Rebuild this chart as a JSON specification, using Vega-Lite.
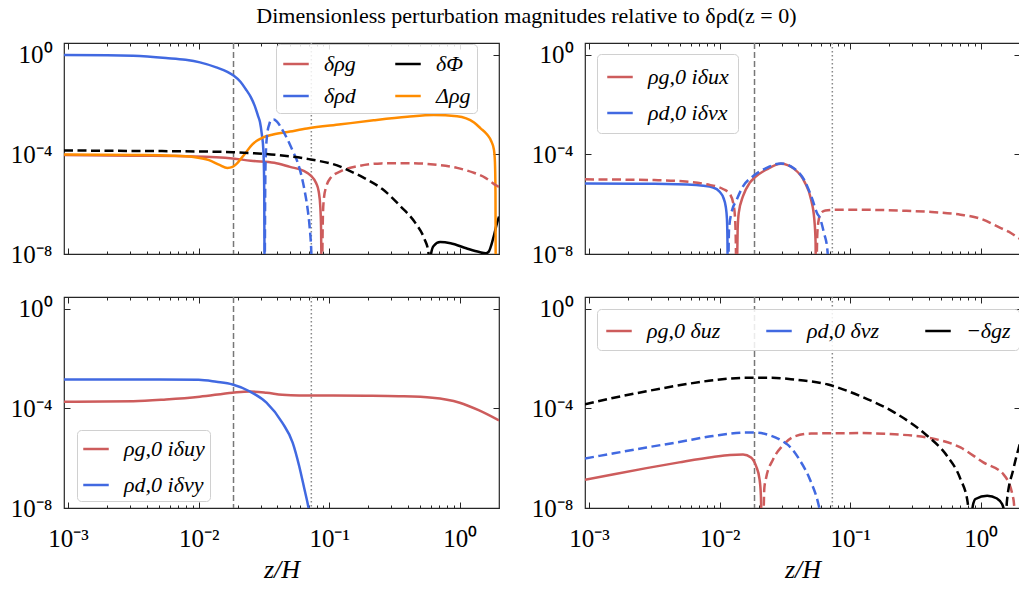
{
  "$schema": "https://vega.github.io/schema/vega-lite/v6.json",
  "padding": {"left": 9, "top": 4, "right": 0, "bottom": 5},
  "title": {"text": "Dimensionless perturbation magnitudes relative to δρd(z = 0)", "anchor": "middle", "dx": 11, "offset": 14},
  "columns": 2,
  "spacing": {"row": 43, "column": 86},
  "bounds": "flush",
  "resolve": {"scale": {"color": "independent"}, "legend": {"color": "independent"}},
  "concat": [
    {
      "width": 435, "height": 211,
      "data": {"values": [
        {"s":"δρg","g":"r1","d":0,"x":0.00093,"y":9.5e-5},{"s":"δρg","g":"r1","d":0,"x":0.00316,"y":8.9e-5},{"s":"δρg","g":"r1","d":0,"x":0.00912,"y":8.3e-5},{"s":"δρg","g":"r1","d":0,"x":0.0182,"y":6.9e-5},{"s":"δρg","g":"r1","d":0,"x":0.0251,"y":5.6e-5},{"s":"δρg","g":"r1","d":0,"x":0.038,"y":4.68e-5},{"s":"δρg","g":"r1","d":0,"x":0.0501,"y":3.16e-5},{"s":"δρg","g":"r1","d":0,"x":0.0631,"y":2.24e-5},{"s":"δρg","g":"r1","d":0,"x":0.0724,"y":1.41e-5},{"s":"δρg","g":"r1","d":0,"x":0.0794,"y":7.1e-6},{"s":"δρg","g":"r1","d":0,"x":0.0832,"y":3.16e-6},{"s":"δρg","g":"r1","d":0,"x":0.0855,"y":7.9e-7},{"s":"δρg","g":"r1","d":0,"x":0.0867,"y":1e-7},{"s":"δρg","g":"r1","d":0,"x":0.0875,"y":1e-9},
        {"s":"δρg","g":"r2","d":1,"x":0.0883,"y":1e-9},{"s":"δρg","g":"r2","d":1,"x":0.0895,"y":3.16e-7},{"s":"δρg","g":"r2","d":1,"x":0.0912,"y":1.78e-6},{"s":"δρg","g":"r2","d":1,"x":0.0955,"y":5.6e-6},{"s":"δρg","g":"r2","d":1,"x":0.1023,"y":1.12e-5},{"s":"δρg","g":"r2","d":1,"x":0.123,"y":2.14e-5},{"s":"δρg","g":"r2","d":1,"x":0.166,"y":3.39e-5},{"s":"δρg","g":"r2","d":1,"x":0.251,"y":4.37e-5},{"s":"δρg","g":"r2","d":1,"x":0.398,"y":4.47e-5},{"s":"δρg","g":"r2","d":1,"x":0.631,"y":3.98e-5},{"s":"δρg","g":"r2","d":1,"x":0.955,"y":2.88e-5},{"s":"δρg","g":"r2","d":1,"x":1.259,"y":1.9e-5},{"s":"δρg","g":"r2","d":1,"x":1.585,"y":1.12e-5},{"s":"δρg","g":"r2","d":1,"x":1.82,"y":6.6e-6},{"s":"δρg","g":"r2","d":1,"x":2.0,"y":5.0e-6},
        {"s":"δρd","g":"b1","d":0,"x":0.00093,"y":1.0},{"s":"δρd","g":"b1","d":0,"x":0.002,"y":0.977},{"s":"δρd","g":"b1","d":0,"x":0.00316,"y":0.912},{"s":"δρd","g":"b1","d":0,"x":0.00562,"y":0.741},{"s":"δρd","g":"b1","d":0,"x":0.00794,"y":0.631},{"s":"δρd","g":"b1","d":0,"x":0.01023,"y":0.501},{"s":"δρd","g":"b1","d":0,"x":0.01365,"y":0.316},{"s":"δρd","g":"b1","d":0,"x":0.0166,"y":0.209},{"s":"δρd","g":"b1","d":0,"x":0.01862,"y":0.1445},{"s":"δρd","g":"b1","d":0,"x":0.0209,"y":0.0832},{"s":"δρd","g":"b1","d":0,"x":0.0229,"y":0.0427},{"s":"δρd","g":"b1","d":0,"x":0.0251,"y":0.02},{"s":"δρd","g":"b1","d":0,"x":0.0269,"y":0.0089},{"s":"δρd","g":"b1","d":0,"x":0.0285,"y":0.00355},{"s":"δρd","g":"b1","d":0,"x":0.0295,"y":0.002},{"s":"δρd","g":"b1","d":0,"x":0.0305,"y":0.00063},{"s":"δρd","g":"b1","d":0,"x":0.0313,"y":0.000158},{"s":"δρd","g":"b1","d":0,"x":0.03162,"y":3.16e-5},{"s":"δρd","g":"b1","d":0,"x":0.0318,"y":3.16e-6},{"s":"δρd","g":"b1","d":0,"x":0.032,"y":1e-9},
        {"s":"δρd","g":"b2","d":1,"x":0.0321,"y":1e-9},{"s":"δρd","g":"b2","d":1,"x":0.0324,"y":1e-5},{"s":"δρd","g":"b2","d":1,"x":0.0327,"y":1e-4},{"s":"δρd","g":"b2","d":1,"x":0.0335,"y":6.3e-4},{"s":"δρd","g":"b2","d":1,"x":0.0347,"y":1.58e-3},{"s":"δρd","g":"b2","d":1,"x":0.0359,"y":2.4e-3},{"s":"δρd","g":"b2","d":1,"x":0.0376,"y":2.51e-3},{"s":"δρd","g":"b2","d":1,"x":0.0398,"y":2.09e-3},{"s":"δρd","g":"b2","d":1,"x":0.0437,"y":1e-3},{"s":"δρd","g":"b2","d":1,"x":0.0479,"y":4.07e-4},{"s":"δρd","g":"b2","d":1,"x":0.0525,"y":1.41e-4},{"s":"δρd","g":"b2","d":1,"x":0.0575,"y":4.57e-5},{"s":"δρd","g":"b2","d":1,"x":0.0646,"y":3.89e-6},{"s":"δρd","g":"b2","d":1,"x":0.0684,"y":6.3e-7},{"s":"δρd","g":"b2","d":1,"x":0.0708,"y":1.26e-7},{"s":"δρd","g":"b2","d":1,"x":0.0728,"y":1.58e-8},{"s":"δρd","g":"b2","d":1,"x":0.0741,"y":1e-9},
        {"s":"δΦ","g":"k1","d":1,"x":0.00093,"y":1.45e-4},{"s":"δΦ","g":"k1","d":1,"x":0.00316,"y":1.38e-4},{"s":"δΦ","g":"k1","d":1,"x":0.01,"y":1.32e-4},{"s":"δΦ","g":"k1","d":1,"x":0.0182,"y":1.23e-4},{"s":"δΦ","g":"k1","d":1,"x":0.0398,"y":9.5e-5},{"s":"δΦ","g":"k1","d":1,"x":0.0724,"y":6.3e-5},{"s":"δΦ","g":"k1","d":1,"x":0.123,"y":3.16e-5},{"s":"δΦ","g":"k1","d":1,"x":0.138,"y":2.4e-5},{"s":"δΦ","g":"k1","d":1,"x":0.186,"y":1.12e-5},{"s":"δΦ","g":"k1","d":1,"x":0.257,"y":3.98e-6},{"s":"δΦ","g":"k1","d":1,"x":0.355,"y":7.9e-7},{"s":"δΦ","g":"k1","d":1,"x":0.457,"y":1.78e-7},{"s":"δΦ","g":"k1","d":1,"x":0.537,"y":3.98e-8},{"s":"δΦ","g":"k1","d":1,"x":0.575,"y":1.26e-8},{"s":"δΦ","g":"k1","d":1,"x":0.586,"y":1e-9},
        {"s":"δΦ","g":"k2","d":0,"x":0.592,"y":1e-9},{"s":"δΦ","g":"k2","d":0,"x":0.603,"y":1e-8},{"s":"δΦ","g":"k2","d":0,"x":0.631,"y":2.1e-8},{"s":"δΦ","g":"k2","d":0,"x":0.708,"y":3.0e-8},{"s":"δΦ","g":"k2","d":0,"x":0.851,"y":2.7e-8},{"s":"δΦ","g":"k2","d":0,"x":1.122,"y":1.7e-8},{"s":"δΦ","g":"k2","d":0,"x":1.413,"y":1.2e-8},{"s":"δΦ","g":"k2","d":0,"x":1.585,"y":1.07e-8},{"s":"δΦ","g":"k2","d":0,"x":1.66,"y":1.2e-8},{"s":"δΦ","g":"k2","d":0,"x":1.82,"y":5e-8},{"s":"δΦ","g":"k2","d":0,"x":1.93,"y":1.74e-7},{"s":"δΦ","g":"k2","d":0,"x":2.0,"y":3.2e-7},
        {"s":"Δρg","g":"o1","d":0,"x":0.00093,"y":1.0e-4},{"s":"Δρg","g":"o1","d":0,"x":0.00316,"y":9.5e-5},{"s":"Δρg","g":"o1","d":0,"x":0.00631,"y":8.9e-5},{"s":"Δρg","g":"o1","d":0,"x":0.00912,"y":7.9e-5},{"s":"Δρg","g":"o1","d":0,"x":0.012,"y":5.9e-5},{"s":"Δρg","g":"o1","d":0,"x":0.01445,"y":3.8e-5},{"s":"Δρg","g":"o1","d":0,"x":0.0166,"y":2.88e-5},{"s":"Δρg","g":"o1","d":0,"x":0.0182,"y":3.16e-5},{"s":"Δρg","g":"o1","d":0,"x":0.0195,"y":4.17e-5},{"s":"Δρg","g":"o1","d":0,"x":0.0224,"y":1e-4},{"s":"Δρg","g":"o1","d":0,"x":0.0257,"y":2.5e-4},{"s":"Δρg","g":"o1","d":0,"x":0.0309,"y":4.7e-4},{"s":"Δρg","g":"o1","d":0,"x":0.0372,"y":6.3e-4},{"s":"Δρg","g":"o1","d":0,"x":0.0501,"y":8.3e-4},{"s":"Δρg","g":"o1","d":0,"x":0.0676,"y":1.1e-3},{"s":"Δρg","g":"o1","d":0,"x":0.123,"y":1.62e-3},{"s":"Δρg","g":"o1","d":0,"x":0.219,"y":2.34e-3},{"s":"Δρg","g":"o1","d":0,"x":0.398,"y":3.24e-3},{"s":"Δρg","g":"o1","d":0,"x":0.631,"y":3.8e-3},{"s":"Δρg","g":"o1","d":0,"x":0.955,"y":3.4e-3},{"s":"Δρg","g":"o1","d":0,"x":1.288,"y":1.9e-3},{"s":"Δρg","g":"o1","d":0,"x":1.445,"y":1.12e-3},{"s":"Δρg","g":"o1","d":0,"x":1.622,"y":6.3e-4},{"s":"Δρg","g":"o1","d":0,"x":1.738,"y":3.55e-4},{"s":"Δρg","g":"o1","d":0,"x":1.828,"y":1.58e-4},{"s":"Δρg","g":"o1","d":0,"x":1.862,"y":5e-5},{"s":"Δρg","g":"o1","d":0,"x":1.879,"y":3.16e-6},{"s":"Δρg","g":"o1","d":0,"x":1.888,"y":1e-9}
      ]},
      "layer": [
        {"data": {"values": [{"v": 0.0185}]}, "mark": {"type": "rule", "color": "#777", "strokeWidth": 1.5, "strokeDash": [6, 3]},
         "encoding": {"x": {"field": "v", "type": "quantitative", "scale": {"type": "log", "domain": [0.00093, 2], "nice": false}, "axis": {"orient": "bottom", "values": [0.002,0.003,0.004,0.005,0.006,0.007,0.008,0.009,0.02,0.03,0.04,0.05,0.06,0.07,0.08,0.09,0.2,0.3,0.4,0.5,0.6,0.7,0.8,0.9], "labels": false, "tickSize": -3, "title": null}},
           "y": {"datum": 3, "type": "quantitative", "scale": {"type": "log", "domain": [1e-8, 3], "nice": false}, "axis": null}, "y2": {"datum": 1e-8}}},
        {"data": {"values": [{"v": 0.073}]}, "mark": {"type": "rule", "color": "#888", "strokeWidth": 1.5, "strokeDash": [1.5, 2.5]},
         "encoding": {"x": {"field": "v", "type": "quantitative", "scale": {"type": "log", "domain": [0.00093, 2], "nice": false}, "axis": {"orient": "top", "values": [0.002,0.003,0.004,0.005,0.006,0.007,0.008,0.009,0.02,0.03,0.04,0.05,0.06,0.07,0.08,0.09,0.2,0.3,0.4,0.5,0.6,0.7,0.8,0.9], "labels": false, "tickSize": -3, "title": null}},
           "y": {"datum": 3, "type": "quantitative", "scale": {"type": "log", "domain": [1e-8, 3], "nice": false}, "axis": null}, "y2": {"datum": 1e-8}}},
        {"transform": [{"filter": "datum.d == 0"}], "mark": {"type": "line", "clip": true, "strokeWidth": 2.5, "interpolate": "monotone"},
         "encoding": {
           "x": {"field": "x", "type": "quantitative", "scale": {"type": "log", "domain": [0.00093, 2], "nice": false}, "axis": {"orient": "bottom", "values": [0.001, 0.01, 0.1, 1], "labels": false, "tickSize": -6, "title": null}},
           "y": {"field": "y", "type": "quantitative", "scale": {"type": "log", "domain": [1e-8, 3], "nice": false}, "axis": {"orient": "left", "values": [1, 0.0001, 1e-8], "labelExpr": "datum.value > 0.5 ? '10⁰' : datum.value > 1e-6 ? '10⁻⁴' : '10⁻⁸'", "tickSize": -6, "labelPadding": 18, "title": null}},
           "color": {"field": "s", "type": "nominal", "scale": {"domain": ["δρg", "δρd", "δΦ", "Δρg"], "range": ["#cd5c5c", "#4169e1", "#000000", "#ff8c00"]}, "legend": {"orient": "none", "legendX": 212, "legendY": 1, "columns": 2, "columnPadding": 34, "rowPadding": 7, "padding": 6, "title": null}},
           "detail": {"field": "g"}
         }},
        {"transform": [{"filter": "datum.d == 1"}], "mark": {"type": "line", "clip": true, "strokeWidth": 2.5, "interpolate": "monotone", "strokeDash": [9, 4.5]},
         "encoding": {
           "x": {"field": "x", "type": "quantitative", "scale": {"type": "log", "domain": [0.00093, 2], "nice": false}, "axis": {"orient": "top", "values": [0.001, 0.01, 0.1, 1], "labels": false, "tickSize": -6, "title": null}},
           "y": {"field": "y", "type": "quantitative", "scale": {"type": "log", "domain": [1e-8, 3], "nice": false}, "axis": {"orient": "right", "values": [1, 0.0001, 1e-8], "labels": false, "tickSize": -6, "title": null}},
           "color": {"field": "s", "type": "nominal", "scale": {"domain": ["δρg", "δρd", "δΦ", "Δρg"], "range": ["#cd5c5c", "#4169e1", "#000000", "#ff8c00"]}, "legend": null},
           "detail": {"field": "g"}
         }}
      ],
      "resolve": {"axis": {"x": "independent", "y": "independent"}}
    },
    {
      "width": 435, "height": 211,
      "data": {"values": [
        {"s":"ρg,0 iδux","g":"r1","d":1,"x":0.00093,"y":1e-5},{"s":"ρg,0 iδux","g":"r1","d":1,"x":0.00316,"y":9.3e-6},{"s":"ρg,0 iδux","g":"r1","d":1,"x":0.0049,"y":8.5e-6},{"s":"ρg,0 iδux","g":"r1","d":1,"x":0.00794,"y":6.3e-6},{"s":"ρg,0 iδux","g":"r1","d":1,"x":0.0107,"y":4.0e-6},{"s":"ρg,0 iδux","g":"r1","d":1,"x":0.012,"y":2.5e-6},{"s":"ρg,0 iδux","g":"r1","d":1,"x":0.0127,"y":1.12e-6},{"s":"ρg,0 iδux","g":"r1","d":1,"x":0.0131,"y":3.16e-7},{"s":"ρg,0 iδux","g":"r1","d":1,"x":0.0133,"y":3.16e-8},{"s":"ρg,0 iδux","g":"r1","d":1,"x":0.0134,"y":1e-9},
        {"s":"ρg,0 iδux","g":"r2","d":0,"x":0.01355,"y":1e-9},{"s":"ρg,0 iδux","g":"r2","d":0,"x":0.01374,"y":1e-7},{"s":"ρg,0 iδux","g":"r2","d":0,"x":0.014,"y":4.4e-7},{"s":"ρg,0 iδux","g":"r2","d":0,"x":0.0151,"y":2.1e-6},{"s":"ρg,0 iδux","g":"r2","d":0,"x":0.017,"y":7.2e-6},{"s":"ρg,0 iδux","g":"r2","d":0,"x":0.0186,"y":1.2e-5},{"s":"ρg,0 iδux","g":"r2","d":0,"x":0.0229,"y":2.5e-5},{"s":"ρg,0 iδux","g":"r2","d":0,"x":0.0295,"y":4.27e-5},{"s":"ρg,0 iδux","g":"r2","d":0,"x":0.0372,"y":2.63e-5},{"s":"ρg,0 iδux","g":"r2","d":0,"x":0.0447,"y":7.9e-6},{"s":"ρg,0 iδux","g":"r2","d":0,"x":0.0501,"y":1.58e-6},{"s":"ρg,0 iδux","g":"r2","d":0,"x":0.0531,"y":2.5e-7},{"s":"ρg,0 iδux","g":"r2","d":0,"x":0.0543,"y":3.16e-8},{"s":"ρg,0 iδux","g":"r2","d":0,"x":0.0547,"y":1e-9},
        {"s":"ρg,0 iδux","g":"r3","d":1,"x":0.0552,"y":1e-9},{"s":"ρg,0 iδux","g":"r3","d":1,"x":0.056,"y":6.3e-8},{"s":"ρg,0 iδux","g":"r3","d":1,"x":0.0575,"y":2.5e-7},{"s":"ρg,0 iδux","g":"r3","d":1,"x":0.0596,"y":4.4e-7},{"s":"ρg,0 iδux","g":"r3","d":1,"x":0.0646,"y":5.6e-7},{"s":"ρg,0 iδux","g":"r3","d":1,"x":0.0794,"y":6.0e-7},{"s":"ρg,0 iδux","g":"r3","d":1,"x":0.12,"y":6.0e-7},{"s":"ρg,0 iδux","g":"r3","d":1,"x":0.251,"y":5.5e-7},{"s":"ρg,0 iδux","g":"r3","d":1,"x":0.389,"y":5.0e-7},{"s":"ρg,0 iδux","g":"r3","d":1,"x":0.7,"y":3.8e-7},{"s":"ρg,0 iδux","g":"r3","d":1,"x":1.0,"y":2.6e-7},{"s":"ρg,0 iδux","g":"r3","d":1,"x":1.413,"y":1.12e-7},{"s":"ρg,0 iδux","g":"r3","d":1,"x":1.637,"y":7.9e-8},{"s":"ρg,0 iδux","g":"r3","d":1,"x":1.905,"y":4.7e-8},{"s":"ρg,0 iδux","g":"r3","d":1,"x":2.0,"y":4.0e-8},
        {"s":"ρd,0 iδvx","g":"b1","d":0,"x":0.00093,"y":6.8e-6},{"s":"ρd,0 iδvx","g":"b1","d":0,"x":0.00316,"y":6.6e-6},{"s":"ρd,0 iδvx","g":"b1","d":0,"x":0.0066,"y":5.9e-6},{"s":"ρd,0 iδvx","g":"b1","d":0,"x":0.0089,"y":4.7e-6},{"s":"ρd,0 iδvx","g":"b1","d":0,"x":0.01,"y":3.16e-6},{"s":"ρd,0 iδvx","g":"b1","d":0,"x":0.0107,"y":1.78e-6},{"s":"ρd,0 iδvx","g":"b1","d":0,"x":0.01114,"y":7.9e-7},{"s":"ρd,0 iδvx","g":"b1","d":0,"x":0.01138,"y":2.5e-7},{"s":"ρd,0 iδvx","g":"b1","d":0,"x":0.01148,"y":3.16e-8},{"s":"ρd,0 iδvx","g":"b1","d":0,"x":0.01153,"y":1e-9},
        {"s":"ρd,0 iδvx","g":"b2","d":1,"x":0.01164,"y":1e-9},{"s":"ρd,0 iδvx","g":"b2","d":1,"x":0.0118,"y":1e-7},{"s":"ρd,0 iδvx","g":"b2","d":1,"x":0.0123,"y":4.4e-7},{"s":"ρd,0 iδvx","g":"b2","d":1,"x":0.0135,"y":1.51e-6},{"s":"ρd,0 iδvx","g":"b2","d":1,"x":0.0151,"y":5.2e-6},{"s":"ρd,0 iδvx","g":"b2","d":1,"x":0.018,"y":1.32e-5},{"s":"ρd,0 iδvx","g":"b2","d":1,"x":0.0229,"y":2.88e-5},{"s":"ρd,0 iδvx","g":"b2","d":1,"x":0.0295,"y":4.37e-5},{"s":"ρd,0 iδvx","g":"b2","d":1,"x":0.0372,"y":2.75e-5},{"s":"ρd,0 iδvx","g":"b2","d":1,"x":0.0447,"y":8.9e-6},{"s":"ρd,0 iδvx","g":"b2","d":1,"x":0.0513,"y":1.58e-6},{"s":"ρd,0 iδvx","g":"b2","d":1,"x":0.0562,"y":4e-7},{"s":"ρd,0 iδvx","g":"b2","d":1,"x":0.0579,"y":3.2e-7},{"s":"ρd,0 iδvx","g":"b2","d":1,"x":0.0631,"y":6.8e-8},{"s":"ρd,0 iδvx","g":"b2","d":1,"x":0.0668,"y":1.58e-8},{"s":"ρd,0 iδvx","g":"b2","d":1,"x":0.0692,"y":1e-9}
      ]},
      "layer": [
        {"data": {"values": [{"v": 0.0185}]}, "mark": {"type": "rule", "color": "#777", "strokeWidth": 1.5, "strokeDash": [6, 3]},
         "encoding": {"x": {"field": "v", "type": "quantitative", "scale": {"type": "log", "domain": [0.00093, 2], "nice": false}, "axis": {"orient": "bottom", "values": [0.002,0.003,0.004,0.005,0.006,0.007,0.008,0.009,0.02,0.03,0.04,0.05,0.06,0.07,0.08,0.09,0.2,0.3,0.4,0.5,0.6,0.7,0.8,0.9], "labels": false, "tickSize": -3, "title": null}},
           "y": {"datum": 3, "type": "quantitative", "scale": {"type": "log", "domain": [1e-8, 3], "nice": false}, "axis": null}, "y2": {"datum": 1e-8}}},
        {"data": {"values": [{"v": 0.073}]}, "mark": {"type": "rule", "color": "#888", "strokeWidth": 1.5, "strokeDash": [1.5, 2.5]},
         "encoding": {"x": {"field": "v", "type": "quantitative", "scale": {"type": "log", "domain": [0.00093, 2], "nice": false}, "axis": {"orient": "top", "values": [0.002,0.003,0.004,0.005,0.006,0.007,0.008,0.009,0.02,0.03,0.04,0.05,0.06,0.07,0.08,0.09,0.2,0.3,0.4,0.5,0.6,0.7,0.8,0.9], "labels": false, "tickSize": -3, "title": null}},
           "y": {"datum": 3, "type": "quantitative", "scale": {"type": "log", "domain": [1e-8, 3], "nice": false}, "axis": null}, "y2": {"datum": 1e-8}}},
        {"transform": [{"filter": "datum.d == 0"}], "mark": {"type": "line", "clip": true, "strokeWidth": 2.5, "interpolate": "monotone"},
         "encoding": {
           "x": {"field": "x", "type": "quantitative", "scale": {"type": "log", "domain": [0.00093, 2], "nice": false}, "axis": {"orient": "bottom", "values": [0.001, 0.01, 0.1, 1], "labels": false, "tickSize": -6, "title": null}},
           "y": {"field": "y", "type": "quantitative", "scale": {"type": "log", "domain": [1e-8, 3], "nice": false}, "axis": {"orient": "left", "values": [1, 0.0001, 1e-8], "labelExpr": "datum.value > 0.5 ? '10⁰' : datum.value > 1e-6 ? '10⁻⁴' : '10⁻⁸'", "tickSize": -6, "labelPadding": 18, "title": null}},
           "color": {"field": "s", "type": "nominal", "scale": {"domain": ["ρg,0 iδux", "ρd,0 iδvx"], "range": ["#cd5c5c", "#4169e1"]}, "legend": {"orient": "none", "legendX": 12, "legendY": 11, "columns": 1, "rowPadding": 11, "padding": 9, "title": null}},
           "detail": {"field": "g"}
         }},
        {"transform": [{"filter": "datum.d == 1"}], "mark": {"type": "line", "clip": true, "strokeWidth": 2.5, "interpolate": "monotone", "strokeDash": [9, 4.5]},
         "encoding": {
           "x": {"field": "x", "type": "quantitative", "scale": {"type": "log", "domain": [0.00093, 2], "nice": false}, "axis": {"orient": "top", "values": [0.001, 0.01, 0.1, 1], "labels": false, "tickSize": -6, "title": null}},
           "y": {"field": "y", "type": "quantitative", "scale": {"type": "log", "domain": [1e-8, 3], "nice": false}, "axis": {"orient": "right", "values": [1, 0.0001, 1e-8], "labels": false, "tickSize": -6, "title": null}},
           "color": {"field": "s", "type": "nominal", "scale": {"domain": ["ρg,0 iδux", "ρd,0 iδvx"], "range": ["#cd5c5c", "#4169e1"]}, "legend": null},
           "detail": {"field": "g"}
         }}
      ],
      "resolve": {"axis": {"x": "independent", "y": "independent"}}
    },
    {
      "width": 435, "height": 211,
      "data": {"values": [
        {"s":"ρg,0 iδuy","g":"r1","d":0,"x":0.00093,"y":1.86e-4},{"s":"ρg,0 iδuy","g":"r1","d":0,"x":0.00316,"y":1.95e-4},{"s":"ρg,0 iδuy","g":"r1","d":0,"x":0.00562,"y":2.29e-4},{"s":"ρg,0 iδuy","g":"r1","d":0,"x":0.0102,"y":2.95e-4},{"s":"ρg,0 iδuy","g":"r1","d":0,"x":0.0182,"y":4.27e-4},{"s":"ρg,0 iδuy","g":"r1","d":0,"x":0.0245,"y":4.8e-4},{"s":"ρg,0 iδuy","g":"r1","d":0,"x":0.0331,"y":4.27e-4},{"s":"ρg,0 iδuy","g":"r1","d":0,"x":0.0437,"y":3.55e-4},{"s":"ρg,0 iδuy","g":"r1","d":0,"x":0.0589,"y":3.3e-4},{"s":"ρg,0 iδuy","g":"r1","d":0,"x":0.107,"y":3.3e-4},{"s":"ρg,0 iδuy","g":"r1","d":0,"x":0.19,"y":3.24e-4},{"s":"ρg,0 iδuy","g":"r1","d":0,"x":0.342,"y":3.1e-4},{"s":"ρg,0 iδuy","g":"r1","d":0,"x":0.617,"y":2.7e-4},{"s":"ρg,0 iδuy","g":"r1","d":0,"x":1.0,"y":1.7e-4},{"s":"ρg,0 iδuy","g":"r1","d":0,"x":1.396,"y":8.5e-5},{"s":"ρg,0 iδuy","g":"r1","d":0,"x":2.0,"y":3.3e-5},
        {"s":"ρd,0 iδvy","g":"b1","d":0,"x":0.00093,"y":1.45e-3},{"s":"ρd,0 iδvy","g":"b1","d":0,"x":0.005,"y":1.44e-3},{"s":"ρd,0 iδvy","g":"b1","d":0,"x":0.01,"y":1.41e-3},{"s":"ρd,0 iδvy","g":"b1","d":0,"x":0.01365,"y":1.17e-3},{"s":"ρd,0 iδvy","g":"b1","d":0,"x":0.0182,"y":9.1e-4},{"s":"ρd,0 iδvy","g":"b1","d":0,"x":0.0245,"y":4.9e-4},{"s":"ρd,0 iδvy","g":"b1","d":0,"x":0.0331,"y":1.7e-4},{"s":"ρd,0 iδvy","g":"b1","d":0,"x":0.0437,"y":2.7e-5},{"s":"ρd,0 iδvy","g":"b1","d":0,"x":0.0525,"y":4.27e-6},{"s":"ρd,0 iδvy","g":"b1","d":0,"x":0.0589,"y":4.9e-7},{"s":"ρd,0 iδvy","g":"b1","d":0,"x":0.0646,"y":5.75e-8},{"s":"ρd,0 iδvy","g":"b1","d":0,"x":0.0695,"y":1e-8},{"s":"ρd,0 iδvy","g":"b1","d":0,"x":0.0724,"y":2.5e-9}
      ]},
      "layer": [
        {"data": {"values": [{"v": 0.0185}]}, "mark": {"type": "rule", "color": "#777", "strokeWidth": 1.5, "strokeDash": [6, 3]},
         "encoding": {"x": {"field": "v", "type": "quantitative", "scale": {"type": "log", "domain": [0.00093, 2], "nice": false}, "axis": {"orient": "bottom", "values": [0.002,0.003,0.004,0.005,0.006,0.007,0.008,0.009,0.02,0.03,0.04,0.05,0.06,0.07,0.08,0.09,0.2,0.3,0.4,0.5,0.6,0.7,0.8,0.9], "labels": false, "tickSize": -3, "title": null}},
           "y": {"datum": 3, "type": "quantitative", "scale": {"type": "log", "domain": [1e-8, 3], "nice": false}, "axis": null}, "y2": {"datum": 1e-8}}},
        {"data": {"values": [{"v": 0.073}]}, "mark": {"type": "rule", "color": "#888", "strokeWidth": 1.5, "strokeDash": [1.5, 2.5]},
         "encoding": {"x": {"field": "v", "type": "quantitative", "scale": {"type": "log", "domain": [0.00093, 2], "nice": false}, "axis": {"orient": "top", "values": [0.002,0.003,0.004,0.005,0.006,0.007,0.008,0.009,0.02,0.03,0.04,0.05,0.06,0.07,0.08,0.09,0.2,0.3,0.4,0.5,0.6,0.7,0.8,0.9], "labels": false, "tickSize": -3, "title": null}},
           "y": {"datum": 3, "type": "quantitative", "scale": {"type": "log", "domain": [1e-8, 3], "nice": false}, "axis": null}, "y2": {"datum": 1e-8}}},
        {"transform": [{"filter": "datum.d == 0"}], "mark": {"type": "line", "clip": true, "strokeWidth": 2.5, "interpolate": "monotone"},
         "encoding": {
           "x": {"field": "x", "type": "quantitative", "scale": {"type": "log", "domain": [0.00093, 2], "nice": false}, "axis": {"orient": "bottom", "values": [0.001, 0.01, 0.1, 1], "labelExpr": "datum.value < 0.005 ? '10⁻³' : datum.value < 0.05 ? '10⁻²' : datum.value < 0.5 ? '10⁻¹' : '10⁰'", "tickSize": -6, "labelPadding": 24, "title": "z/H", "titleFontStyle": "italic", "titlePadding": 5}},
           "y": {"field": "y", "type": "quantitative", "scale": {"type": "log", "domain": [1e-8, 3], "nice": false}, "axis": {"orient": "left", "values": [1, 0.0001, 1e-8], "labelExpr": "datum.value > 0.5 ? '10⁰' : datum.value > 1e-6 ? '10⁻⁴' : '10⁻⁸'", "tickSize": -6, "labelPadding": 18, "title": null}},
           "color": {"field": "s", "type": "nominal", "scale": {"domain": ["ρg,0 iδuy", "ρd,0 iδvy"], "range": ["#cd5c5c", "#4169e1"]}, "legend": {"orient": "none", "legendX": 13, "legendY": 133, "columns": 1, "rowPadding": 11, "padding": 5, "title": null}},
           "detail": {"field": "g"}
         }},
        {"transform": [{"filter": "datum.d == 1"}], "mark": {"type": "line", "clip": true, "strokeWidth": 2.5, "interpolate": "monotone", "strokeDash": [9, 4.5]},
         "encoding": {
           "x": {"field": "x", "type": "quantitative", "scale": {"type": "log", "domain": [0.00093, 2], "nice": false}, "axis": {"orient": "top", "values": [0.001, 0.01, 0.1, 1], "labels": false, "tickSize": -6, "title": null}},
           "y": {"field": "y", "type": "quantitative", "scale": {"type": "log", "domain": [1e-8, 3], "nice": false}, "axis": {"orient": "right", "values": [1, 0.0001, 1e-8], "labels": false, "tickSize": -6, "title": null}},
           "color": {"field": "s", "type": "nominal", "scale": {"domain": ["ρg,0 iδuy", "ρd,0 iδvy"], "range": ["#cd5c5c", "#4169e1"]}, "legend": null},
           "detail": {"field": "g"}
         }}
      ],
      "resolve": {"axis": {"x": "independent", "y": "independent"}}
    },
    {
      "width": 435, "height": 211,
      "data": {"values": [
        {"s":"ρg,0 δuz","g":"r1","d":0,"x":0.00093,"y":1.35e-7},{"s":"ρg,0 δuz","g":"r1","d":0,"x":0.00155,"y":2.29e-7},{"s":"ρg,0 δuz","g":"r1","d":0,"x":0.00275,"y":4.0e-7},{"s":"ρg,0 δuz","g":"r1","d":0,"x":0.0049,"y":6.8e-7},{"s":"ρg,0 δuz","g":"r1","d":0,"x":0.0089,"y":1.12e-6},{"s":"ρg,0 δuz","g":"r1","d":0,"x":0.012,"y":1.35e-6},{"s":"ρg,0 δuz","g":"r1","d":0,"x":0.0151,"y":1.41e-6},{"s":"ρg,0 δuz","g":"r1","d":0,"x":0.0174,"y":1.07e-6},{"s":"ρg,0 δuz","g":"r1","d":0,"x":0.019,"y":4.9e-7},{"s":"ρg,0 δuz","g":"r1","d":0,"x":0.0202,"y":1.45e-7},{"s":"ρg,0 δuz","g":"r1","d":0,"x":0.0207,"y":3.16e-8},{"s":"ρg,0 δuz","g":"r1","d":0,"x":0.021,"y":1e-9},
        {"s":"ρg,0 δuz","g":"r2","d":1,"x":0.0216,"y":1e-9},{"s":"ρg,0 δuz","g":"r2","d":1,"x":0.022,"y":6.3e-8},{"s":"ρg,0 δuz","g":"r2","d":1,"x":0.0226,"y":1.45e-7},{"s":"ρg,0 δuz","g":"r2","d":1,"x":0.0257,"y":9.1e-7},{"s":"ρg,0 δuz","g":"r2","d":1,"x":0.0302,"y":3.1e-6},{"s":"ρg,0 δuz","g":"r2","d":1,"x":0.0372,"y":7.4e-6},{"s":"ρg,0 δuz","g":"r2","d":1,"x":0.0501,"y":9.8e-6},{"s":"ρg,0 δuz","g":"r2","d":1,"x":0.12,"y":1.02e-5},{"s":"ρg,0 δuz","g":"r2","d":1,"x":0.219,"y":9.1e-6},{"s":"ρg,0 δuz","g":"r2","d":1,"x":0.389,"y":6.8e-6},{"s":"ρg,0 δuz","g":"r2","d":1,"x":0.7,"y":2.7e-6},{"s":"ρg,0 δuz","g":"r2","d":1,"x":1.047,"y":6.8e-7},{"s":"ρg,0 δuz","g":"r2","d":1,"x":1.5,"y":2.2e-7},{"s":"ρg,0 δuz","g":"r2","d":1,"x":1.78,"y":2.3e-8},{"s":"ρg,0 δuz","g":"r2","d":1,"x":1.86,"y":1e-9},
        {"s":"ρd,0 δvz","g":"b1","d":1,"x":0.00093,"y":9.8e-7},{"s":"ρd,0 δvz","g":"b1","d":1,"x":0.00155,"y":1.58e-6},{"s":"ρd,0 δvz","g":"b1","d":1,"x":0.00275,"y":2.7e-6},{"s":"ρd,0 δvz","g":"b1","d":1,"x":0.0049,"y":4.5e-6},{"s":"ρd,0 δvz","g":"b1","d":1,"x":0.0089,"y":7.8e-6},{"s":"ρd,0 δvz","g":"b1","d":1,"x":0.0158,"y":1.07e-5},{"s":"ρd,0 δvz","g":"b1","d":1,"x":0.019,"y":1.07e-5},{"s":"ρd,0 δvz","g":"b1","d":1,"x":0.024,"y":8.5e-6},{"s":"ρd,0 δvz","g":"b1","d":1,"x":0.0302,"y":4.9e-6},{"s":"ρd,0 δvz","g":"b1","d":1,"x":0.0355,"y":2.5e-6},{"s":"ρd,0 δvz","g":"b1","d":1,"x":0.0407,"y":9.1e-7},{"s":"ρd,0 δvz","g":"b1","d":1,"x":0.049,"y":1.45e-7},{"s":"ρd,0 δvz","g":"b1","d":1,"x":0.0575,"y":1.23e-8},{"s":"ρd,0 δvz","g":"b1","d":1,"x":0.0596,"y":5e-9},
        {"s":"−δgz","g":"k1","d":1,"x":0.00093,"y":1.48e-4},{"s":"−δgz","g":"k1","d":1,"x":0.00155,"y":2.7e-4},{"s":"−δgz","g":"k1","d":1,"x":0.00275,"y":4.9e-4},{"s":"−δgz","g":"k1","d":1,"x":0.0049,"y":8.5e-4},{"s":"−δgz","g":"k1","d":1,"x":0.0089,"y":1.35e-3},{"s":"−δgz","g":"k1","d":1,"x":0.0158,"y":1.7e-3},{"s":"−δgz","g":"k1","d":1,"x":0.0251,"y":1.7e-3},{"s":"−δgz","g":"k1","d":1,"x":0.0372,"y":1.45e-3},{"s":"−δgz","g":"k1","d":1,"x":0.0676,"y":9.1e-4},{"s":"−δgz","g":"k1","d":1,"x":0.12,"y":3.1e-4},{"s":"−δgz","g":"k1","d":1,"x":0.219,"y":6.8e-5},{"s":"−δgz","g":"k1","d":1,"x":0.389,"y":8e-6},{"s":"−δgz","g":"k1","d":1,"x":0.553,"y":1.23e-6},{"s":"−δgz","g":"k1","d":1,"x":0.7,"y":1.45e-7},{"s":"−δgz","g":"k1","d":1,"x":0.794,"y":1.7e-8},{"s":"−δgz","g":"k1","d":1,"x":0.824,"y":1e-9},
        {"s":"−δgz","g":"k2","d":0,"x":0.832,"y":1e-9},{"s":"−δgz","g":"k2","d":0,"x":0.871,"y":1.26e-8},{"s":"−δgz","g":"k2","d":0,"x":0.912,"y":2.3e-8},{"s":"−δgz","g":"k2","d":0,"x":1.122,"y":3.1e-8},{"s":"−δgz","g":"k2","d":0,"x":1.334,"y":2.4e-8},{"s":"−δgz","g":"k2","d":0,"x":1.462,"y":1.4e-8},{"s":"−δgz","g":"k2","d":0,"x":1.53,"y":5e-9},{"s":"−δgz","g":"k2","d":0,"x":1.55,"y":1e-9},
        {"s":"−δgz","g":"k3","d":1,"x":1.567,"y":1e-9},{"s":"−δgz","g":"k3","d":1,"x":1.585,"y":1.7e-8},{"s":"−δgz","g":"k3","d":1,"x":1.778,"y":3.6e-7},{"s":"−δgz","g":"k3","d":1,"x":2.0,"y":4e-6}
      ]},
      "layer": [
        {"data": {"values": [{"v": 0.0185}]}, "mark": {"type": "rule", "color": "#777", "strokeWidth": 1.5, "strokeDash": [6, 3]},
         "encoding": {"x": {"field": "v", "type": "quantitative", "scale": {"type": "log", "domain": [0.00093, 2], "nice": false}, "axis": {"orient": "bottom", "values": [0.002,0.003,0.004,0.005,0.006,0.007,0.008,0.009,0.02,0.03,0.04,0.05,0.06,0.07,0.08,0.09,0.2,0.3,0.4,0.5,0.6,0.7,0.8,0.9], "labels": false, "tickSize": -3, "title": null}},
           "y": {"datum": 3, "type": "quantitative", "scale": {"type": "log", "domain": [1e-8, 3], "nice": false}, "axis": null}, "y2": {"datum": 1e-8}}},
        {"data": {"values": [{"v": 0.073}]}, "mark": {"type": "rule", "color": "#888", "strokeWidth": 1.5, "strokeDash": [1.5, 2.5]},
         "encoding": {"x": {"field": "v", "type": "quantitative", "scale": {"type": "log", "domain": [0.00093, 2], "nice": false}, "axis": {"orient": "top", "values": [0.002,0.003,0.004,0.005,0.006,0.007,0.008,0.009,0.02,0.03,0.04,0.05,0.06,0.07,0.08,0.09,0.2,0.3,0.4,0.5,0.6,0.7,0.8,0.9], "labels": false, "tickSize": -3, "title": null}},
           "y": {"datum": 3, "type": "quantitative", "scale": {"type": "log", "domain": [1e-8, 3], "nice": false}, "axis": null}, "y2": {"datum": 1e-8}}},
        {"transform": [{"filter": "datum.d == 0"}], "mark": {"type": "line", "clip": true, "strokeWidth": 2.5, "interpolate": "monotone"},
         "encoding": {
           "x": {"field": "x", "type": "quantitative", "scale": {"type": "log", "domain": [0.00093, 2], "nice": false}, "axis": {"orient": "bottom", "values": [0.001, 0.01, 0.1, 1], "labelExpr": "datum.value < 0.005 ? '10⁻³' : datum.value < 0.05 ? '10⁻²' : datum.value < 0.5 ? '10⁻¹' : '10⁰'", "tickSize": -6, "labelPadding": 24, "title": "z/H", "titleFontStyle": "italic", "titlePadding": 5}},
           "y": {"field": "y", "type": "quantitative", "scale": {"type": "log", "domain": [1e-8, 3], "nice": false}, "axis": {"orient": "left", "values": [1, 0.0001, 1e-8], "labelExpr": "datum.value > 0.5 ? '10⁰' : datum.value > 1e-6 ? '10⁻⁴' : '10⁻⁸'", "tickSize": -6, "labelPadding": 18, "title": null}},
           "color": {"field": "s", "type": "nominal", "scale": {"domain": ["ρg,0 δuz", "ρd,0 δvz", "−δgz"], "range": ["#cd5c5c", "#4169e1", "#000000"]}, "legend": {"orient": "none", "legendX": 12, "legendY": 12, "columns": 3, "columnPadding": 40, "padding": 8, "title": null}},
           "detail": {"field": "g"}
         }},
        {"transform": [{"filter": "datum.d == 1"}], "mark": {"type": "line", "clip": true, "strokeWidth": 2.5, "interpolate": "monotone", "strokeDash": [9, 4.5]},
         "encoding": {
           "x": {"field": "x", "type": "quantitative", "scale": {"type": "log", "domain": [0.00093, 2], "nice": false}, "axis": {"orient": "top", "values": [0.001, 0.01, 0.1, 1], "labels": false, "tickSize": -6, "title": null}},
           "y": {"field": "y", "type": "quantitative", "scale": {"type": "log", "domain": [1e-8, 3], "nice": false}, "axis": {"orient": "right", "values": [1, 0.0001, 1e-8], "labels": false, "tickSize": -6, "title": null}},
           "color": {"field": "s", "type": "nominal", "scale": {"domain": ["ρg,0 δuz", "ρd,0 δvz", "−δgz"], "range": ["#cd5c5c", "#4169e1", "#000000"]}, "legend": null},
           "detail": {"field": "g"}
         }}
      ],
      "resolve": {"axis": {"x": "independent", "y": "independent"}}
    }
  ],
  "config": {
    "view": {"stroke": "#262626", "strokeWidth": 1.2},
    "title": {"font": "Liberation Serif", "fontSize": 22, "fontWeight": "normal", "color": "#000"},
    "axis": {"domain": false, "grid": false, "tickColor": "#262626", "tickWidth": 1, "labelFont": "Liberation Serif", "labelFontSize": 25, "labelColor": "#000", "labelFlush": false, "labelOverlap": false, "labelBound": false, "titleFont": "Liberation Serif", "titleFontSize": 26, "titleFontWeight": "normal", "titleColor": "#000"},
    "legend": {"labelFont": "Liberation Serif", "labelFontSize": 22, "labelFontStyle": "italic", "labelColor": "#000", "symbolType": "stroke", "symbolStrokeWidth": 2.5, "symbolSize": 650, "strokeColor": "#d0d0d0", "fillColor": "rgba(255,255,255,0.85)", "cornerRadius": 4, "labelOffset": 14, "labelLimit": 300}
  }
}
